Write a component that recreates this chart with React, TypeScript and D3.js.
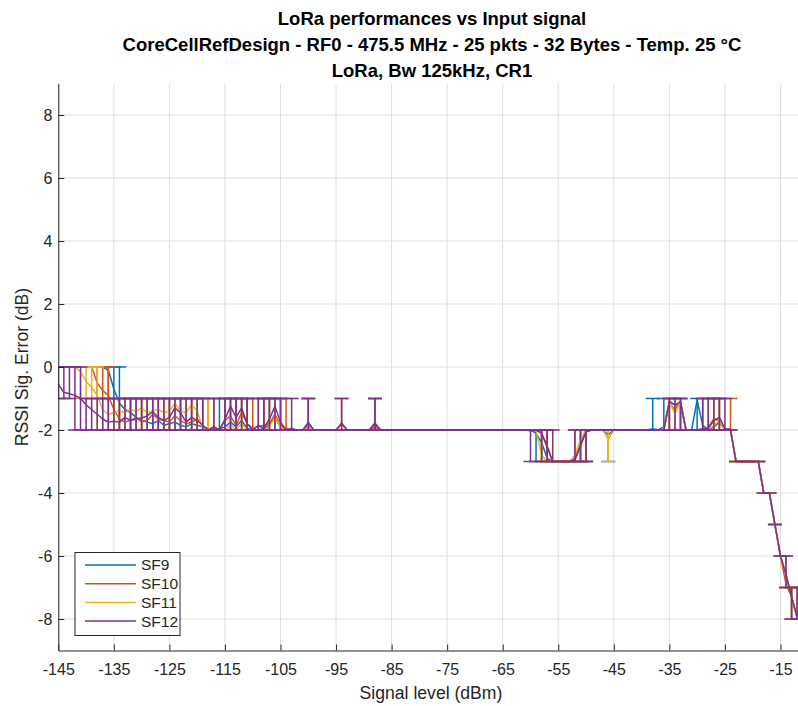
import * as React from 'react';
import * as d3 from 'd3';

// measurement grid (dBm)
const signalLevels = [
	-145, -144, -143, -142, -141, -140, -139, -138, -137, -136,
	-135, -134, -133, -132, -131, -130, -129, -128, -127, -126,
	-125, -124, -123, -122, -121, -120, -119, -118, -117, -116,
	-115, -114, -113, -112, -111, -110, -109, -108, -107, -106,
	-105, -104, -103, -102, -101, -100, -99, -98, -97, -96,
	-95, -94, -93, -92, -91, -90, -89, -88, -87, -86,
	-85, -84, -83, -82, -81, -80, -79, -78, -77, -76,
	-75, -74, -73, -72, -71, -70, -69, -68, -67, -66,
	-65, -64, -63, -62, -61, -60, -59, -58, -57, -56,
	-55, -54, -53, -52, -51, -50, -49, -48, -47, -46,
	-45, -44, -43, -42, -41, -40, -39, -38, -37, -36,
	-35, -34, -33, -32, -31, -30, -29, -28, -27, -26,
	-25, -24, -23, -22, -21, -20, -19, -18, -17, -16,
	-15, -14, -13, -12,
];

// SF9
const sf9Mean = [
	0, 0, 0, 0, 0, 0, 0, 0, 0, -0.1,
	-0.7, -1.15, -1.35, -1.45, -1.6, -1.7, -1.75, -1.8, -1.7, -1.85,
	-1.8, -1.75, -1.85, -1.9, -1.8, -1.85, -1.9, -1.95, -2, -1.96,
	-1.9, -1.75, -1.9, -1.7, -1.95, -2, -2, -1.95, -1.85, -1.6,
	-1.9, -2, -2, -2, -2, -1.85, -2, -2, -2, -2,
	-2, -2, -2, -2, -2, -2, -2, -1.8, -2, -2,
	-2, -2, -2, -2, -2, -2, -2, -2, -2, -2,
	-2, -2, -2, -2, -2, -2, -2, -2, -2, -2,
	-2, -2, -2, -2, -2, -2, -2.1, -2.4, -2.9, -3,
	-3, -3, -3, -2.95, -2.5, -2.05, -2, -2, -2, -2.15,
	-2, -2, -2, -2, -2, -2, -2, -1.96, -2, -1.9,
	-1.1, -1.2, -1.2, -2, -2, -1.05, -1.85, -2, -1.9, -1.75,
	-2, -2, -3, -3, -3, -3, -3, -4, -4, -5,
	-6, -6.6, -7.3, -7.95,
];
const sf9Hi = [
	0, 0, 0, 0, 0, 0, 0, 0, 0, 0,
	0, 0, -1, -1, -1, -1, -1, -1, -1, -1,
	-1, -1, -1, -1, -1, -1, -1, -1, -2, -1,
	-1, -1, -1, -1, -1, -2, -2, -1, -1, -1,
	-1, -2, -2, -2, -2, -1, -2, -2, -2, -2,
	-2, -2, -2, -2, -2, -2, -2, -1, -2, -2,
	-2, -2, -2, -2, -2, -2, -2, -2, -2, -2,
	-2, -2, -2, -2, -2, -2, -2, -2, -2, -2,
	-2, -2, -2, -2, -2, -2, -2, -2, -2, -3,
	-3, -3, -3, -2, -2, -2, -2, -2, -2, -2,
	-2, -2, -2, -2, -2, -2, -2, -1, -2, -1,
	-1, -1, -1, -2, -2, -1, -1, -2, -1, -1,
	-2, -2, -3, -3, -3, -3, -3, -4, -4, -5,
	-6, -6, -7, -7,
];
const sf9Lo = [
	0, 0, 0, 0, 0, 0, 0, 0, 0, -1,
	-1, -2, -2, -2, -2, -2, -2, -2, -2, -2,
	-2, -2, -2, -2, -2, -2, -2, -2, -2, -2,
	-2, -2, -2, -2, -2, -2, -2, -2, -2, -2,
	-2, -2, -2, -2, -2, -2, -2, -2, -2, -2,
	-2, -2, -2, -2, -2, -2, -2, -2, -2, -2,
	-2, -2, -2, -2, -2, -2, -2, -2, -2, -2,
	-2, -2, -2, -2, -2, -2, -2, -2, -2, -2,
	-2, -2, -2, -2, -2, -2, -3, -3, -3, -3,
	-3, -3, -3, -3, -3, -3, -2, -2, -2, -3,
	-2, -2, -2, -2, -2, -2, -2, -2, -2, -2,
	-2, -2, -2, -2, -2, -2, -2, -2, -2, -2,
	-2, -2, -3, -3, -3, -3, -3, -4, -4, -5,
	-6, -7, -8, -8,
];

// SF10
const sf10Mean = [
	0, 0, 0, 0, 0, 0, 0, -0.5, -0.75, -0.9,
	-1.35, -1.65, -1.75, -1.7, -1.6, -1.75, -1.7, -1.5, -1.65, -1.7,
	-1.75, -1.55, -1.7, -1.8, -1.75, -1.65, -1.85, -2, -1.9, -2,
	-1.7, -1.55, -1.85, -1.45, -1.8, -1.95, -1.9, -1.85, -1.8, -1.5,
	-1.85, -1.95, -2, -2, -2, -1.9, -2, -2, -2, -2,
	-2, -1.82, -2, -2, -2, -2, -2, -1.9, -2, -2,
	-2, -2, -2, -2, -2, -2, -2, -2, -2, -2,
	-2, -2, -2, -2, -2, -2, -2, -2, -2, -2,
	-2, -2, -2, -2, -2, -2, -2, -2.1, -2.5, -3,
	-3, -3, -3, -2.9, -2.45, -2.05, -2, -2, -2, -2,
	-2, -2, -2, -2, -2, -2, -2, -2, -2, -2,
	-1.15, -1.35, -1.1, -2, -2, -2, -2, -1.9, -1.65, -1.7,
	-2, -1.95, -3, -3, -3, -3, -3, -4, -4, -5,
	-6, -6.9, -7.3, -7.95,
];
const sf10Hi = [
	0, 0, 0, 0, 0, 0, 0, 0, 0, 0,
	-1, -1, -1, -1, -1, -1, -1, -1, -1, -1,
	-1, -1, -1, -1, -1, -1, -1, -2, -1, -2,
	-1, -1, -1, -1, -1, -1, -1, -1, -1, -1,
	-1, -1, -2, -2, -2, -1, -2, -2, -2, -2,
	-2, -1, -2, -2, -2, -2, -2, -1, -2, -2,
	-2, -2, -2, -2, -2, -2, -2, -2, -2, -2,
	-2, -2, -2, -2, -2, -2, -2, -2, -2, -2,
	-2, -2, -2, -2, -2, -2, -2, -2, -2, -3,
	-3, -3, -3, -2, -2, -2, -2, -2, -2, -2,
	-2, -2, -2, -2, -2, -2, -2, -2, -2, -2,
	-1, -1, -1, -2, -2, -2, -2, -1, -1, -1,
	-2, -1, -3, -3, -3, -3, -3, -4, -4, -5,
	-6, -6, -7, -7,
];
const sf10Lo = [
	0, 0, 0, 0, 0, 0, 0, -1, -1, -2,
	-2, -2, -2, -2, -2, -2, -2, -2, -2, -2,
	-2, -2, -2, -2, -2, -2, -2, -2, -2, -2,
	-2, -2, -2, -2, -2, -2, -2, -2, -2, -2,
	-2, -2, -2, -2, -2, -2, -2, -2, -2, -2,
	-2, -2, -2, -2, -2, -2, -2, -2, -2, -2,
	-2, -2, -2, -2, -2, -2, -2, -2, -2, -2,
	-2, -2, -2, -2, -2, -2, -2, -2, -2, -2,
	-2, -2, -2, -2, -2, -2, -2, -3, -3, -3,
	-3, -3, -3, -3, -3, -3, -2, -2, -2, -2,
	-2, -2, -2, -2, -2, -2, -2, -2, -2, -2,
	-2, -2, -2, -2, -2, -2, -2, -2, -2, -2,
	-2, -2, -3, -3, -3, -3, -3, -4, -4, -5,
	-6, -7, -8, -8,
];

// SF11
const sf11Mean = [
	0, 0, 0, 0, -0.15, -0.45, -0.65, -0.9, -1.35, -1.5,
	-1.45, -1.4, -1.45, -1.35, -1.4, -1.3, -1.45, -1.4, -1.35, -1.45,
	-1.4, -1.15, -1.4, -1.45, -1.2, -1.4, -1.95, -1.96, -2, -2,
	-2, -1.85, -2, -1.8, -2, -2, -2, -2, -1.9, -1.6,
	-1.9, -2, -2, -2, -2, -1.9, -2, -2, -2, -2,
	-2, -2, -2, -2, -2, -2, -2, -2, -2, -2,
	-2, -2, -2, -2, -2, -2, -2, -2, -2, -2,
	-2, -2, -2, -2, -2, -2, -2, -2, -2, -2,
	-2, -2, -2, -2, -2, -2, -2, -2.8, -3, -3,
	-3, -3, -3, -2.8, -2.3, -2, -2, -2, -2, -2.3,
	-2, -2, -2, -2, -2, -2, -2, -2, -2, -2,
	-1.1, -1.5, -1.1, -2, -2, -2, -2, -2, -1.85, -1.7,
	-2, -2, -3, -3, -3, -3, -3, -4, -4, -5,
	-6, -6.6, -7.3, -7.95,
];
const sf11Hi = [
	0, 0, 0, 0, 0, 0, 0, 0, -1, -1,
	-1, -1, -1, -1, -1, -1, -1, -1, -1, -1,
	-1, -1, -1, -1, -1, -1, -1, -1, -2, -2,
	-2, -1, -2, -1, -2, -2, -2, -2, -1, -1,
	-1, -2, -2, -2, -2, -1, -2, -2, -2, -2,
	-2, -2, -2, -2, -2, -2, -2, -2, -2, -2,
	-2, -2, -2, -2, -2, -2, -2, -2, -2, -2,
	-2, -2, -2, -2, -2, -2, -2, -2, -2, -2,
	-2, -2, -2, -2, -2, -2, -2, -2, -3, -3,
	-3, -3, -3, -2, -2, -2, -2, -2, -2, -2,
	-2, -2, -2, -2, -2, -2, -2, -2, -2, -2,
	-1, -1, -1, -2, -2, -2, -2, -2, -1, -1,
	-2, -2, -3, -3, -3, -3, -3, -4, -4, -5,
	-6, -6, -7, -7,
];
const sf11Lo = [
	0, 0, 0, 0, -1, -1, -1, -2, -2, -2,
	-2, -2, -2, -2, -2, -2, -2, -2, -2, -2,
	-2, -2, -2, -2, -2, -2, -2, -2, -2, -2,
	-2, -2, -2, -2, -2, -2, -2, -2, -2, -2,
	-2, -2, -2, -2, -2, -2, -2, -2, -2, -2,
	-2, -2, -2, -2, -2, -2, -2, -2, -2, -2,
	-2, -2, -2, -2, -2, -2, -2, -2, -2, -2,
	-2, -2, -2, -2, -2, -2, -2, -2, -2, -2,
	-2, -2, -2, -2, -2, -2, -2, -3, -3, -3,
	-3, -3, -3, -3, -3, -2, -2, -2, -2, -3,
	-2, -2, -2, -2, -2, -2, -2, -2, -2, -2,
	-2, -2, -2, -2, -2, -2, -2, -2, -2, -2,
	-2, -2, -3, -3, -3, -3, -3, -4, -4, -5,
	-6, -7, -8, -8,
];

// SF12
const sf12Mean = [
	-0.55, -0.8, -0.85, -0.9, -1.0, -1.2, -1.35, -1.5, -1.65, -1.75,
	-1.72, -1.75, -1.6, -1.7, -1.65, -1.62, -1.55, -1.42, -1.6, -1.7,
	-1.6, -1.3, -1.45, -1.75, -1.6, -1.7, -1.85, -2, -1.9, -2,
	-1.65, -1.25, -1.6, -1.3, -1.8, -2, -1.85, -1.95, -1.65, -1.25,
	-1.75, -2, -1.95, -2, -2, -1.76, -2, -2, -2, -2,
	-2, -1.78, -2, -2, -2, -2, -2, -1.78, -2, -2,
	-2, -2, -2, -2, -2, -2, -2, -2, -2, -2,
	-2, -2, -2, -2, -2, -2, -2, -2, -2, -2,
	-2, -2, -2, -2, -2, -2.02, -2, -2.1, -2.55, -3,
	-3, -3, -3, -2.95, -2.5, -2.05, -2, -2, -2, -2,
	-2, -2, -2, -2, -2, -2, -2, -2, -2, -2,
	-1.1, -1.2, -1.1, -2, -2, -2, -1.96, -1.95, -1.7, -1.6,
	-1.95, -2, -3, -3, -3, -3, -3, -4, -4, -5,
	-6, -6.6, -7.3, -7.95,
];
const sf12Hi = [
	0, 0, 0, 0, 0, -1, -1, -1, -1, -1,
	-1, -1, -1, -1, -1, -1, -1, -1, -1, -1,
	-1, -1, -1, -1, -1, -1, -1, -2, -1, -2,
	-1, -1, -1, -1, -1, -2, -1, -1, -1, -1,
	-1, -2, -1, -2, -2, -1, -2, -2, -2, -2,
	-2, -1, -2, -2, -2, -2, -2, -1, -2, -2,
	-2, -2, -2, -2, -2, -2, -2, -2, -2, -2,
	-2, -2, -2, -2, -2, -2, -2, -2, -2, -2,
	-2, -2, -2, -2, -2, -2, -2, -2, -2, -2,
	-3, -3, -3, -2, -2, -2, -2, -2, -2, -2,
	-2, -2, -2, -2, -2, -2, -2, -2, -2, -2,
	-1, -1, -1, -2, -2, -2, -1, -1, -1, -1,
	-1, -2, -3, -3, -3, -3, -3, -4, -4, -5,
	-6, -6, -7, -7,
];
const sf12Lo = [
	-1, -1, -1, -2, -2, -2, -2, -2, -2, -2,
	-2, -2, -2, -2, -2, -2, -2, -2, -2, -2,
	-2, -2, -2, -2, -2, -2, -2, -2, -2, -2,
	-2, -2, -2, -2, -2, -2, -2, -2, -2, -2,
	-2, -2, -2, -2, -2, -2, -2, -2, -2, -2,
	-2, -2, -2, -2, -2, -2, -2, -2, -2, -2,
	-2, -2, -2, -2, -2, -2, -2, -2, -2, -2,
	-2, -2, -2, -2, -2, -2, -2, -2, -2, -2,
	-2, -2, -2, -2, -2, -3, -2, -3, -3, -3,
	-3, -3, -3, -3, -3, -3, -2, -2, -2, -2,
	-2, -2, -2, -2, -2, -2, -2, -2, -2, -2,
	-2, -2, -2, -2, -2, -2, -2, -2, -2, -2,
	-2, -2, -3, -3, -3, -3, -3, -4, -4, -5,
	-6, -7, -8, -8,
];

const seriesNames = ['SF9', 'SF10', 'SF11', 'SF12'];
const seriesColors = ['#0072BD', '#D95319', '#EDB120', '#7E2F8E'];
const seriesMeans = [sf9Mean, sf10Mean, sf11Mean, sf12Mean];
const seriesHi = [sf9Hi, sf10Hi, sf11Hi, sf12Hi];
const seriesLo = [sf9Lo, sf10Lo, sf11Lo, sf12Lo];

const xTicks = [-145, -135, -125, -115, -105, -95, -85, -75, -65, -55, -45, -35, -25, -15];
const yTicks = [-8, -6, -4, -2, 0, 2, 4, 6, 8];

const titleLines = [
	'LoRa performances vs Input signal',
	'CoreCellRefDesign - RF0 - 475.5 MHz - 25 pkts - 32 Bytes - Temp. 25 °C',
	'LoRa, Bw 125kHz, CR1',
];

const FONT = '"Liberation Sans", Arial, Helvetica, sans-serif';
const INK = '#262626';

const draw = (svgNode: SVGSVGElement) => {
	const svg = d3.select(svgNode);
	svg.selectAll('*').remove();

	const x = d3.scaleLinear().domain([-145, -11]).range([58.3, 802.7]);
	const y = d3.scaleLinear().domain([-9, 9]).range([650.5, 83.5]);
	const [x0, x1] = x.range();
	const [yb, yt] = y.range();

	svg.append('defs').append('clipPath').attr('id', 'plotclip')
		.append('rect')
		.attr('x', x0).attr('y', yt)
		.attr('width', x1 - x0).attr('height', yb - yt);

	// grid
	const grid = svg.append('g').attr('stroke', '#dfdfdf').attr('stroke-width', 1);
	grid.selectAll('.gx').data(xTicks).enter().append('line')
		.attr('x1', d => x(d)).attr('x2', d => x(d))
		.attr('y1', yt).attr('y2', yb);
	grid.selectAll('.gy').data(yTicks).enter().append('line')
		.attr('x1', x0).attr('x2', x1)
		.attr('y1', d => y(d)).attr('y2', d => y(d));

	// series: error bars + mean line, SF9 first, SF12 on top
	const plot = svg.append('g').attr('clip-path', 'url(#plotclip)');
	const capHalf = 7;
	seriesNames.forEach((name, s) => {
		const pts = signalLevels.map((v, i) => ({
			x: v, mean: seriesMeans[s][i], hi: seriesHi[s][i], lo: seriesLo[s][i],
		}));
		const g = plot.append('g')
			.attr('stroke', seriesColors[s])
			.attr('stroke-width', 1.5)
			.attr('fill', 'none');

		const bars = g.selectAll('.bar').data(pts).enter().append('g');
		bars.filter(d => d.hi !== d.lo).append('line')
			.attr('x1', d => x(d.x)).attr('x2', d => x(d.x))
			.attr('y1', d => y(d.hi)).attr('y2', d => y(d.lo));
		bars.append('line')
			.attr('x1', d => x(d.x) - capHalf).attr('x2', d => x(d.x) + capHalf)
			.attr('y1', d => y(d.hi)).attr('y2', d => y(d.hi));
		bars.filter(d => d.hi !== d.lo).append('line')
			.attr('x1', d => x(d.x) - capHalf).attr('x2', d => x(d.x) + capHalf)
			.attr('y1', d => y(d.lo)).attr('y2', d => y(d.lo));

		const line = d3.line<any>().x(d => x(d.x)).y(d => y(d.mean));
		g.append('path').datum(pts).attr('d', line).attr('stroke-linejoin', 'round');
	});

	// axes
	const fmt = (d: any) => String(d);
	const xAxis = d3.axisBottom(x).tickValues(xTicks).tickFormat(fmt)
		.tickSize(-6).tickSizeOuter(0).tickPadding(13);
	const gx = svg.append('g').attr('transform', `translate(0,${yb})`).call(xAxis);
	const yAxis = d3.axisLeft(y).tickValues(yTicks).tickFormat(fmt)
		.tickSize(-6).tickSizeOuter(0).tickPadding(6);
	const gy = svg.append('g').attr('transform', `translate(${x0},0)`).call(yAxis);
	[gx, gy].forEach(ax => {
		ax.select('.domain').attr('stroke', INK);
		ax.selectAll('.tick line').attr('stroke', INK);
		ax.selectAll('.tick text')
			.attr('fill', INK)
			.style('font-family', FONT)
			.style('font-size', '16px');
	});

	// labels
	svg.append('text')
		.attr('x', 431).attr('y', 699)
		.attr('text-anchor', 'middle')
		.attr('fill', INK)
		.style('font-family', FONT).style('font-size', '17.6px')
		.text('Signal level (dBm)');
	svg.append('text')
		.attr('transform', `translate(28,${(yt + yb) / 2}) rotate(-90)`)
		.attr('text-anchor', 'middle')
		.attr('fill', INK)
		.style('font-family', FONT).style('font-size', '17.6px')
		.text('RSSI Sig. Error (dB)');

	svg.selectAll('.title').data(titleLines).enter().append('text')
		.attr('x', 432)
		.attr('y', (d, i) => 25 + i * 26)
		.attr('text-anchor', 'middle')
		.attr('fill', '#000')
		.style('font-family', FONT).style('font-size', '18.5px').style('font-weight', 'bold')
		.text(d => d);

	// legend
	const lg = svg.append('g');
	lg.append('rect')
		.attr('x', 75).attr('y', 552.5).attr('width', 105).attr('height', 83)
		.attr('fill', '#fff').attr('stroke', INK).attr('stroke-width', 1);
	const items = lg.selectAll('.item').data(seriesNames).enter().append('g')
		.attr('transform', (d, i) => `translate(0,${565 + i * 18.7})`);
	items.append('line')
		.attr('x1', 85).attr('x2', 136)
		.attr('stroke', (d, i) => seriesColors[i]).attr('stroke-width', 1.5);
	items.append('text')
		.attr('x', 141).attr('dy', '0.35em')
		.attr('fill', INK)
		.style('font-family', FONT).style('font-size', '15.5px')
		.text(d => d);
};

const App = () => {
	const ref = React.useRef<SVGSVGElement>(null);
	React.useEffect(() => {
		if (ref.current) draw(ref.current);
	}, []);
	return (
		<svg
			ref={ref}
			width={798}
			height={706}
			style={{position: 'absolute', left: 0, top: 0, background: '#fff'}}
		/>
	);
};

export default App;
